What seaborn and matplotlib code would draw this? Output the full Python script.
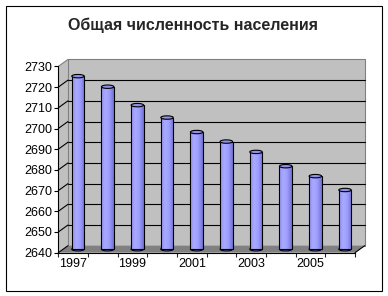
import numpy as np
import pandas as pd
import matplotlib
matplotlib.use("Agg")
import matplotlib.pyplot as plt
import matplotlib.patches as mpatches
import matplotlib.transforms as mtransforms
from matplotlib.colors import LinearSegmentedColormap
import seaborn as sns

# ---------------- data ----------------
title = "Общая численность населения"
years = ["1997", "1998", "1999", "2000", "2001", "2002", "2003", "2004", "2005", "2006"]
population = [2723.6, 2718.5, 2709.6, 2703.6, 2696.6, 2692.0, 2687.0, 2680.1, 2675.3, 2668.6]
y_ticks = [2640, 2650, 2660, 2670, 2680, 2690, 2700, 2710, 2720, 2730]
x_tick_labels = ["1997", "1999", "2001", "2003", "2005"]

# ---------------- style ----------------
sns.set_style("white")
plt.rcParams["font.family"] = ["Liberation Sans", "DejaVu Sans"]

W, H = 388, 296
fig = plt.figure(figsize=(W / 100, H / 100), dpi=100)
fig.patch.set_facecolor("white")

# front plane of the pseudo-3D plot (pixel coordinates, image origin top-left)
fl, fr, fb, ft = 58.3, 355.0, 252.7, 66.4
ax = fig.add_axes([fl / W, (H - fb) / H, (fr - fl) / W, (fb - ft) / H])
ax.set_facecolor("none")

ymin, ymax = y_ticks[0], y_ticks[-1]
ncat = len(years)
dx_px, dy_px = 9.7, 7.0
DX = dx_px / ((fr - fl) / ncat)
DY = dy_px / ((fb - ft) / (ymax - ymin))
x0, x1 = -0.5, ncat - 0.5

# ---------------- bars (seaborn) ----------------
df = pd.DataFrame({"year": years, "population": population})
sns.barplot(data=df, x="year", y="population", color="#9999FF", saturation=1,
            width=0.42, edgecolor="black", linewidth=0.8, ax=ax)
bars = list(ax.patches)

ax.set_xlim(x0, x1)
ax.set_ylim(ymin, ymax)

shift_mid = mtransforms.Affine2D().translate(DX / 2, DY / 2) + ax.transData
shift_back = mtransforms.Affine2D().translate(DX, DY) + ax.transData

# ---------------- walls / floor ----------------
wall_col = "#C0C0C0"
side = mpatches.Polygon([(x0, ymin), (x0, ymax), (x0 + DX, ymax + DY), (x0 + DX, ymin + DY)],
                        closed=True, facecolor=wall_col, edgecolor="none", zorder=0.5, clip_on=False)
ax.add_patch(side)
back = mpatches.Rectangle((x0, ymin), x1 - x0, ymax - ymin, transform=shift_back,
                          facecolor=wall_col, edgecolor="#808080", linewidth=0.8, zorder=0.5, clip_on=False)
ax.add_patch(back)
floor = mpatches.Polygon([(x0, ymin), (x1, ymin), (x1 + DX, ymin + DY), (x0 + DX, ymin + DY)],
                         closed=True, facecolor="#808080", edgecolor="none", zorder=0.6, clip_on=False)
ax.add_patch(floor)
ax.plot([x0, x0 + DX], [ymax, ymax + DY], color="#808080", lw=0.8, zorder=0.7, clip_on=False)
ax.plot([x1, x1 + DX], [ymin, ymin + DY], color="black", lw=0.8, zorder=0.7, clip_on=False)
ax.plot([x0, x0 + DX], [ymin, ymin + DY], color="black", lw=0.8, zorder=0.7, clip_on=False)

for t in y_ticks[1:-1]:
    ax.plot([x0 + DX, x1 + DX], [t + DY, t + DY], color="black", lw=0.8, zorder=0.8, clip_on=False)
    ax.plot([x0, x0 + DX], [t, t + DY], color="black", lw=0.8, zorder=0.8, clip_on=False)

# ---------------- cylinders ----------------
cmap = LinearSegmentedColormap.from_list(
    "cyl", [(0.0, "#9292F2"), (0.35, "#AAAAFF"), (0.65, "#9C9CFF"), (1.0, "#7272D2")])
grad = np.linspace(0, 1, 64).reshape(1, -1)
EH = 3.4 / ((fb - ft) / (ymax - ymin))

for patch, v in zip(bars, population):
    patch.set_y(ymin)
    patch.set_height(v - ymin)
    patch.set_transform(shift_mid)
    patch.set_clip_on(False)
    patch.set_facecolor("none")
    patch.set_zorder(3.2)
    bx = patch.get_x()
    bw = patch.get_width()
    cx = bx + bw / 2
    im = ax.imshow(grad, cmap=cmap, extent=(bx, bx + bw, ymin, v), transform=shift_mid,
                   aspect="auto", interpolation="bilinear", zorder=3.1)
    im.set_clip_path(patch)
    bot = mpatches.Ellipse((cx, ymin), bw, EH, transform=shift_mid, facecolor="#8C8CEE",
                           edgecolor="black", linewidth=0.8, zorder=3.0, clip_on=False)
    ax.add_patch(bot)
    top = mpatches.Ellipse((cx, v), bw, EH, transform=shift_mid, facecolor="#9090EC",
                           edgecolor="black", linewidth=0.8, zorder=3.3, clip_on=False)
    ax.add_patch(top)

ax.set_xlim(x0, x1)
ax.set_ylim(ymin, ymax)

# ---------------- axes ----------------
ax.set_xlabel("")
ax.set_ylabel("")
ax.set_yticks(y_ticks)
ax.set_yticklabels([str(t) for t in y_ticks])
ax.set_xticks(list(range(0, ncat, 2)))
ax.set_xticklabels(x_tick_labels)
ax.set_xticks(np.arange(x0, x1 + 0.01, 1.0), minor=True)
ax.tick_params(axis="y", which="major", direction="out", length=2.8, width=0.8, pad=1.5,
               labelsize=9, colors="black", left=True)
ax.tick_params(axis="x", which="major", length=0, pad=3.6, labelsize=9, colors="black")
ax.tick_params(axis="x", which="minor", direction="out", length=2.8, width=0.8, bottom=True)
for s in ["top", "right"]:
    ax.spines[s].set_visible(False)
for s in ["left", "bottom"]:
    ax.spines[s].set_visible(True)
    ax.spines[s].set_color("black")
    ax.spines[s].set_linewidth(0.8)
    ax.spines[s].set_zorder(4)

# ---------------- title & frame ----------------
fig.text(193 / W, 1 - 30 / H, title, ha="center", va="baseline", fontsize=11.5, fontweight="bold")
fig.add_artist(mpatches.Rectangle((5.5 / W, (H - 290.5) / H), (382 - 5.5) / W, (290.5 - 5.5) / H,
                                  transform=fig.transFigure, fill=False, edgecolor="black", lw=0.8))

fig.savefig("out.png", dpi=100, facecolor="white")
